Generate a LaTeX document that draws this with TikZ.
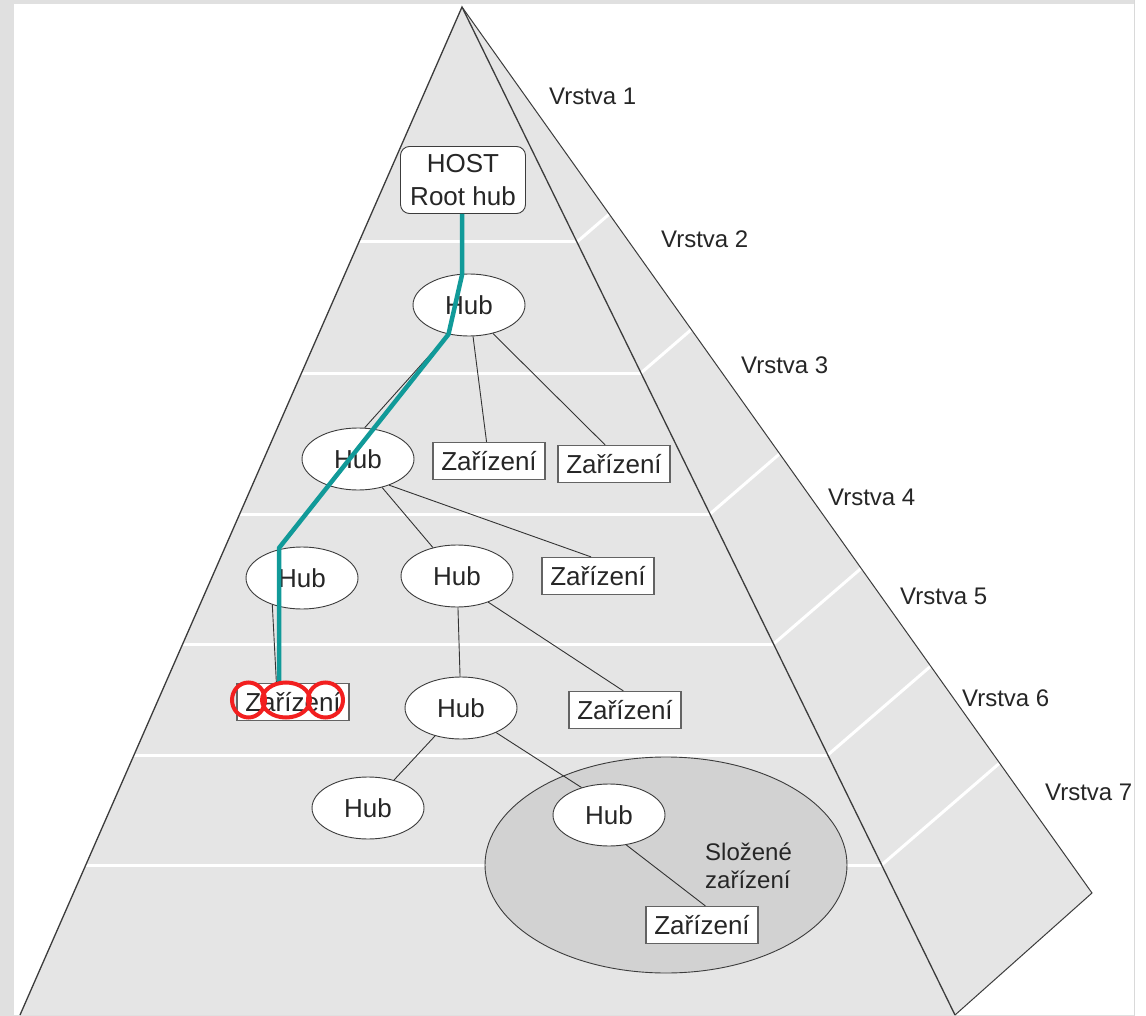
\documentclass[tikz,border=0pt]{standalone}
\usepackage{fontspec}
\setmainfont{Liberation Sans}
\usepackage{tikz}
\usetikzlibrary{shapes.geometric,positioning}

\definecolor{facegray}{HTML}{E5E5E5}
\definecolor{compgray}{HTML}{D2D2D2}
\definecolor{pathteal}{HTML}{119A99}
\definecolor{markred}{HTML}{F21F1F}
\definecolor{edgegray}{HTML}{3C3C3C}

\begin{document}
\begin{tikzpicture}[x=1pt, y=-1pt,
    hub/.style={ellipse, draw=edgegray, fill=white, line width=0.9pt,
      minimum width=112pt, minimum height=62pt, inner sep=0pt,
      font=\fontsize{26}{30}\selectfont, text=black!85},
    device/.style={rectangle, draw=edgegray!80, fill=white, line width=1.2pt,
      minimum width=112pt, minimum height=37pt, inner sep=1pt,
      font=\fontsize{26}{30}\selectfont, text=black!85},
    rootbox/.style={rectangle, rounded corners=9pt, draw=edgegray, fill=white,
      line width=0.9pt, minimum width=125pt, minimum height=67pt, inner sep=2pt,
      align=center, font=\fontsize{26}{33}\selectfont, text=black!85},
    layer/.style={font=\fontsize{24}{28}\selectfont, text=black!85, anchor=west, inner sep=0pt},
    link/.style={draw=black!80, line width=0.9pt}]
    \useasboundingbox (0, 0) rectangle (1146, 1016);

    % page frame
    \fill [black!12] (0, 0) rectangle (1134, 1016);
    \fill [white] (14, 4) rectangle (1134, 1015);
    \draw [black!15, line width=1pt] (1134.5, 0) -- (1134.5, 1016);

    % pyramid faces
    \coordinate (apex) at (462, 7);
    \coordinate (baseL) at (20, 1015);
    \coordinate (baseR) at (955, 1015);
    \coordinate (back) at (1092, 893);

    \fill [facegray] (apex) -- (baseL) -- (baseR) -- cycle;
    \fill [facegray] (apex) -- (baseR) -- (back) -- cycle;

    \begin{scope}
      \clip (apex) -- (baseL) -- (baseR) -- cycle;
      \foreach \y in {242, 373, 514, 644, 755, 865}
        \draw [white, line width=3pt] (0, \y) -- (1146, \y);
    \end{scope}
    \begin{scope}
      \clip (apex) -- (baseR) -- (back) -- cycle;
      \foreach \y in {242, 373, 514, 644, 755, 865}
        \draw [white, line width=3pt] ({462 + 0.489*(\y - 7)}, \y) -- ++(278, -240);
    \end{scope}

    \draw [edgegray, line width=1.3pt] (baseL) -- (apex) -- (baseR);
    \draw [edgegray, line width=1pt] (apex) -- (back) -- (baseR);

    % layer labels
    \node (v1) at (549, 96) [layer] {Vrstva 1};
    \node (v2) at (661, 239) [layer] {Vrstva 2};
    \node (v3) at (741, 365) [layer] {Vrstva 3};
    \node (v4) at (828, 497) [layer] {Vrstva 4};
    \node (v5) at (900, 596) [layer] {Vrstva 5};
    \node (v6) at (962, 698) [layer] {Vrstva 6};
    \node (v7) at (1045, 792) [layer] {Vrstva 7};

    % composite device
    \node (comp) at (666, 865) [ellipse, draw=edgegray, fill=compgray, line width=0.9pt,
      minimum width=362pt, minimum height=216pt] {};
    \node (comptext) at (705, 866) [anchor=west, align=left, inner sep=0pt,
      font=\fontsize{24}{28}\selectfont, text=black!85] {Složené\\zařízení};

    % tree
    \node (host) at (463, 180) [rootbox] {HOST\\Root hub};
    \node (hubA) at (469, 305) [hub] {Hub};
    \node (hubB) at (358, 459) [hub] {Hub};
    \node (hubC) at (302, 578) [hub] {Hub};
    \node (hubD) at (457, 576) [hub] {Hub};
    \node (hubE) at (461, 708) [hub] {Hub};
    \node (hubF) at (368, 808) [hub] {Hub};
    \node (hubG) at (609, 815) [hub] {Hub};
    \node (devA) at (489, 461) [device] {Zařízení};
    \node (devB) at (614, 464) [device] {Zařízení};
    \node (devC) at (598, 576) [device] {Zařízení};
    \node (devD) at (293, 702) [device] {Zařízení};
    \node (devE) at (625, 710) [device] {Zařízení};
    \node (devF) at (702, 925) [device] {Zařízení};

    \draw [link] (hubA.235) -- (hubB.78);
    \draw [link] (hubA) -- (devA);
    \draw [link] (hubA.310) -- (devB.115);
    \draw [link] (hubB.222) -- (hubC.129);
    \draw [link] (hubB) -- (hubD);
    \draw [link] (hubB.320) -- (devC.110);
    \draw [link] (hubC.222) -- (devD.131);
    \draw [link] (hubD) -- (hubE);
    \draw [link] (hubD.320) -- (devE.95);
    \draw [link] (hubE) -- (hubF);
    \draw [link] (hubE.325) -- (hubG.135);
    \draw [link] (hubG.300) -- (devF.80);

    % highlighted path
    \coordinate (bend) at (279, 548);
    \draw [pathteal, line width=4.5pt, line join=round]
      (host.south -| 462, 0) -- (462, 275) -- (hubA.235) -- (bend) -- (bend |- devD.north);

    % marks
    \draw [markred, line width=4pt] (248.5, 700) ellipse [x radius=16.5, y radius=17.5];
    \draw [markred, line width=4pt] (286, 700) ellipse [x radius=24, y radius=17.5];
    \draw [markred, line width=4pt] (325.5, 700) ellipse [x radius=17.5, y radius=17.5];
  \end{tikzpicture}
\end{document}
